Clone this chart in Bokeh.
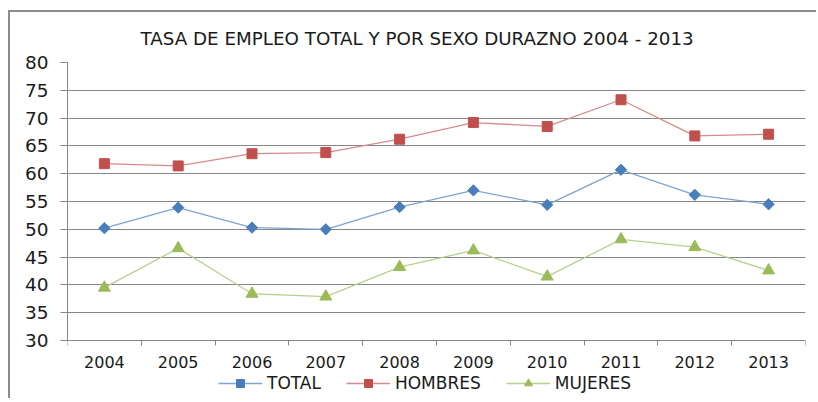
import math
from bokeh.plotting import figure
from bokeh.models import FixedTicker, Legend, LegendItem, LinearAxis
from bokeh.embed import file_html
from bokeh.resources import INLINE

years = [2004, 2005, 2006, 2007, 2008, 2009, 2010, 2011, 2012, 2013]
total = [50.2, 53.9, 50.3, 50.0, 54.0, 57.0, 54.4, 60.7, 56.2, 54.5]
hombres = [61.8, 61.4, 63.6, 63.8, 66.2, 69.2, 68.5, 73.3, 66.8, 67.1]
mujeres = [39.5, 46.6, 38.4, 37.9, 43.2, 46.2, 41.5, 48.2, 46.8, 42.6]
y_ticks = [30, 35, 40, 45, 50, 55, 60, 65, 70, 75, 80]
title_text = "TASA DE EMPLEO TOTAL Y POR SEXO DURAZNO 2004 - 2013"

FONT = "DejaVu Sans"
GRID = "#868686"

# layout (pixels)
W, H = 808, 388
FRAME_TOP, AXIS_Y, FRAME_BOTTOM = 50, 328, 388   # canvas-relative
ymin, ymax = y_ticks[0], y_ticks[-1]
units_per_px = (ymax - ymin) / (AXIS_Y - FRAME_TOP)
y_start = ymin - (FRAME_BOTTOM - AXIS_Y) * units_per_px

p = figure(width=W, height=H, output_backend="svg", toolbar_location=None,
           x_range=(years[0] - 0.5, years[-1] + 0.5), y_range=(y_start, ymax),
           x_axis_location=None,
           min_border_left=57, min_border_right=13, min_border_top=FRAME_TOP, min_border_bottom=0)
p.styles = {"border-top": "2px solid #8c8c8c", "border-left": "2px solid #8c8c8c",
            "position": "relative", "left": "8px", "top": "10px"}

p.title.text = title_text
p.title.text_font = FONT
p.title.text_font_size = "18.3px"
p.title.text_font_style = "normal"
p.title.text_color = "#1a1a1a"
p.title.align = "left"
p.title.offset = 73
p.title.standoff = 27

p.outline_line_color = None
p.background_fill_color = "white"
p.border_fill_color = "white"

boundaries = [y - 0.5 for y in years] + [years[-1] + 0.5]
xaxis = LinearAxis(fixed_location=ymin)
xaxis.ticker = FixedTicker(ticks=years, minor_ticks=boundaries)
xaxis.major_label_overrides = {y: str(y) for y in years}
xaxis.major_tick_out = 0
xaxis.major_tick_in = 0
xaxis.minor_tick_out = 5
xaxis.minor_tick_in = 0
xaxis.minor_tick_line_color = GRID
xaxis.axis_line_color = GRID
xaxis.major_label_text_font = FONT
xaxis.major_label_text_font_size = "16px"
xaxis.major_label_text_color = "#1a1a1a"
xaxis.major_label_standoff = 10
p.add_layout(xaxis, "below")
p.xgrid.grid_line_color = None

p.yaxis.ticker = FixedTicker(ticks=y_ticks)
p.yaxis.bounds = (ymin, ymax)
p.yaxis.major_tick_out = 7
p.yaxis.major_tick_in = 0
p.yaxis.minor_tick_out = 0
p.yaxis.minor_tick_in = 0
p.yaxis.major_tick_line_color = GRID
p.yaxis.axis_line_color = GRID
p.yaxis.major_label_text_font = FONT
p.yaxis.major_label_text_font_size = "18.5px"
p.yaxis.major_label_text_color = "#1a1a1a"
p.yaxis.major_label_standoff = 12
p.ygrid.grid_line_color = GRID
p.ygrid.grid_line_width = 1

blue_l, blue_m = "#7fa3d4", "#4a7ebb"
red_l, red_m = "#d98b89", "#c0504d"
green_l, green_m = "#b8d08c", "#9bbb59"

l1 = p.line(years, total, line_color=blue_l, line_width=1.3)
m1 = p.scatter(years, total, marker="square", size=8, angle=math.pi / 4,
               fill_color=blue_m, line_color=blue_m)
l2 = p.line(years, hombres, line_color=red_l, line_width=1.3)
m2 = p.scatter(years, hombres, marker="square", size=10, fill_color=red_m, line_color=red_m)
l3 = p.line(years, mujeres, line_color=green_l, line_width=1.3)
m3 = p.scatter(years, mujeres, marker="triangle", size=12, fill_color=green_m, line_color=green_m)

legend = Legend(items=[
    LegendItem(label="TOTAL", renderers=[l1, m1]),
    LegendItem(label="HOMBRES", renderers=[l2, m2]),
    LegendItem(label="MUJERES", renderers=[l3, m3]),
], orientation="horizontal", location=(151, 7))
legend.label_text_font = FONT
legend.label_text_font_size = "17px"
legend.label_text_color = "#1a1a1a"
legend.glyph_width = 44
legend.glyph_height = 20
legend.label_standoff = 5
legend.spacing = 25
legend.padding = 0
legend.margin = 0
legend.border_line_color = None
legend.background_fill_alpha = 0
p.add_layout(legend, "center")

open("out.html", "w").write(file_html(p, INLINE))
